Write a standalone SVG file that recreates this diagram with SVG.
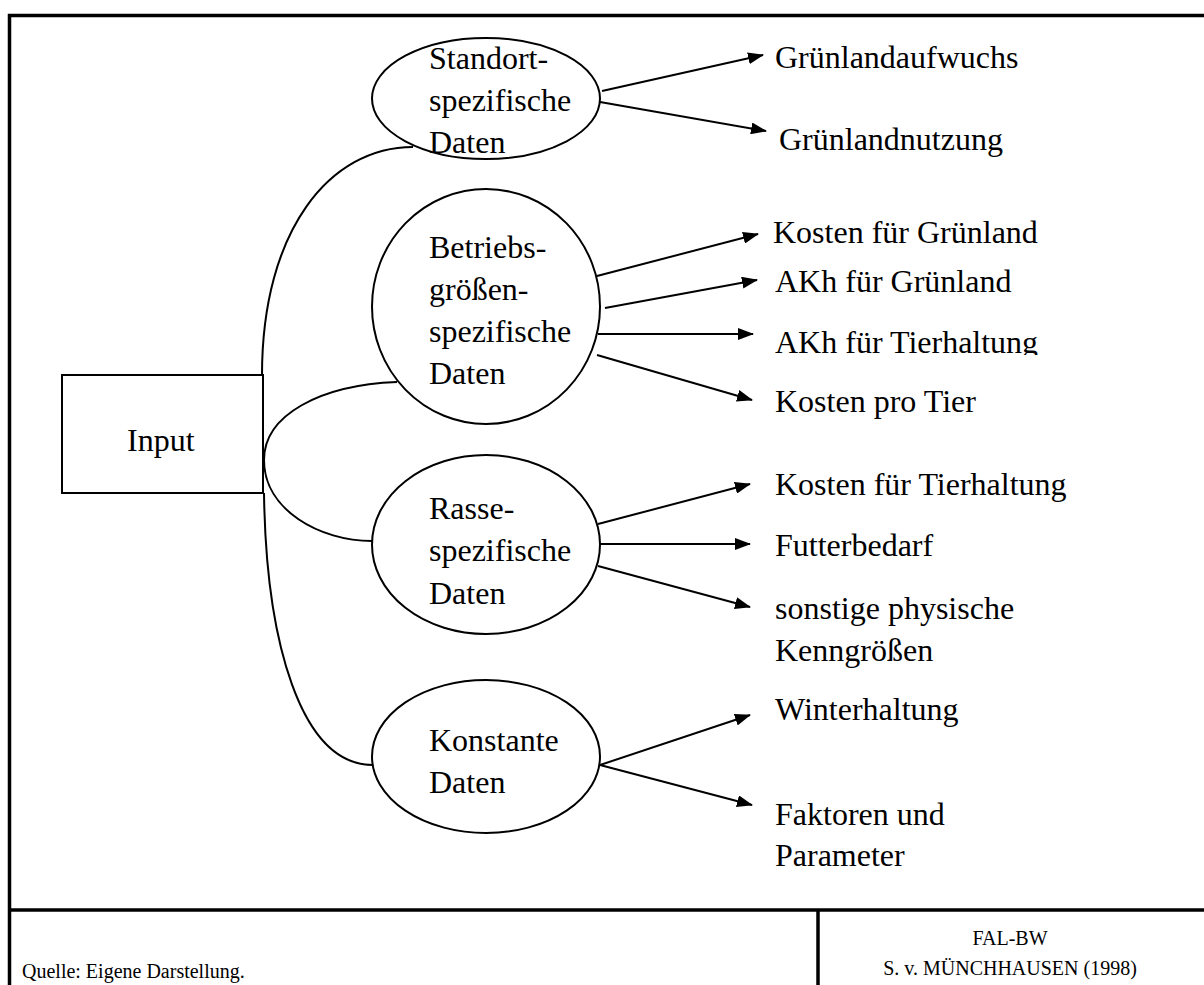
<svg xmlns="http://www.w3.org/2000/svg" width="1204" height="985" viewBox="0 0 1204 985">
  <style>
    .lbl { font-family: "Liberation Serif", "Times New Roman", serif; font-size: 32px; fill: #000; }
    .foot { font-family: "Liberation Serif", "Times New Roman", serif; font-size: 20px; fill: #000; }
    .node { fill: #fff; stroke: #000; stroke-width: 2; }
    .curve { fill: none; stroke: #000; stroke-width: 2; }
    .arrow { fill: none; stroke: #000; stroke-width: 2; marker-end: url(#head); }
    .frame { fill: none; stroke: #000; stroke-width: 3.5; }
  </style>
  <defs>
    <marker id="head" viewBox="0 0 16 12" refX="15" refY="6" markerWidth="16" markerHeight="12" markerUnits="userSpaceOnUse" orient="auto">
      <path d="M0,0 L16,6 L0,12 Z" fill="#000"/>
    </marker>
    <clipPath id="cut-akh">
      <rect x="760" y="300" width="320" height="55"/>
    </clipPath>
  </defs>

  <rect width="1204" height="985" fill="#fff"/>

  <!-- outer frame and footer cells -->
  <g id="frame">
    <path class="frame" d="M9.5,985 V15.5 H1204"/>
    <line class="frame" x1="9.5" y1="910" x2="1204" y2="910"/>
    <line class="frame" x1="818" y1="910" x2="818" y2="985"/>
  </g>

  <!-- links from Input to the data groups -->
  <g id="connectors">
    <path class="curve" d="M262,375 C262,230 330,147 413,147"/>
    <path class="curve" d="M397,382 C320,385 264,415 264,460 C264,510 320,541 372,541"/>
    <path class="curve" d="M264,493 C266,640 300,765 373,765"/>

    <line class="arrow" x1="602" y1="91" x2="763" y2="55"/>
    <line class="arrow" x1="600" y1="102" x2="766" y2="131"/>

    <line class="arrow" x1="597" y1="276" x2="758" y2="234"/>
    <line class="arrow" x1="605" y1="308" x2="757" y2="280"/>
    <line class="arrow" x1="598" y1="334" x2="753" y2="334"/>
    <line class="arrow" x1="597" y1="355" x2="752" y2="400"/>

    <line class="arrow" x1="598" y1="524" x2="750" y2="484"/>
    <line class="arrow" x1="600" y1="544" x2="750" y2="544"/>
    <line class="arrow" x1="598" y1="566" x2="750" y2="607"/>

    <line class="arrow" x1="600" y1="765" x2="750" y2="715"/>
    <line class="arrow" x1="600" y1="765" x2="752" y2="805"/>
  </g>

  <g id="input">
    <rect class="node" x="62" y="375" width="201" height="118"/>
    <text class="lbl" x="127" y="451">Input</text>
  </g>

  <g id="standort">
    <ellipse class="node" cx="486" cy="98.5" rx="114" ry="60.5"/>
    <text class="lbl" x="429" y="69">Standort-</text>
    <text class="lbl" x="429" y="111">spezifische</text>
    <text class="lbl" x="429" y="153">Daten</text>
  </g>

  <g id="betrieb">
    <ellipse class="node" cx="486" cy="306.5" rx="114" ry="117.5"/>
    <text class="lbl" x="429" y="258">Betriebs-</text>
    <text class="lbl" x="429" y="300">größen-</text>
    <text class="lbl" x="429" y="342">spezifische</text>
    <text class="lbl" x="429" y="384">Daten</text>
  </g>

  <g id="rasse">
    <ellipse class="node" cx="486" cy="544.5" rx="114" ry="89.5"/>
    <text class="lbl" x="429" y="519">Rasse-</text>
    <text class="lbl" x="429" y="561">spezifische</text>
    <text class="lbl" x="429" y="604">Daten</text>
  </g>

  <g id="konstant">
    <ellipse class="node" cx="486" cy="756.5" rx="114" ry="76.5"/>
    <text class="lbl" x="429" y="751">Konstante</text>
    <text class="lbl" x="429" y="793">Daten</text>
  </g>

  <!-- output labels -->
  <g id="out-standort">
    <text class="lbl" x="775" y="68">Grünlandaufwuchs</text>
    <text class="lbl" x="779" y="150">Grünlandnutzung</text>
  </g>
  <g id="out-betrieb">
    <text class="lbl" x="773" y="243">Kosten für Grünland</text>
    <text class="lbl" x="775" y="292">AKh für Grünland</text>
    <text class="lbl" x="775" y="353" clip-path="url(#cut-akh)">AKh für Tierhaltung</text>
    <text class="lbl" x="775" y="412">Kosten pro Tier</text>
  </g>
  <g id="out-rasse">
    <text class="lbl" x="775" y="495">Kosten für Tierhaltung</text>
    <text class="lbl" x="775" y="556">Futterbedarf</text>
    <text class="lbl" x="775" y="619">sonstige physische</text>
    <text class="lbl" x="775" y="661">Kenngrößen</text>
  </g>
  <g id="out-konstant">
    <text class="lbl" x="775" y="720">Winterhaltung</text>
    <text class="lbl" x="775" y="825">Faktoren und</text>
    <text class="lbl" x="775" y="866">Parameter</text>
  </g>

  <g id="footer">
    <text class="foot" x="22" y="978">Quelle: Eigene Darstellung.</text>
    <text class="foot" x="1010" y="945" text-anchor="middle">FAL-BW</text>
    <text class="foot" x="1010" y="975" text-anchor="middle">S. v. MÜNCHHAUSEN (1998)</text>
  </g>
</svg>
